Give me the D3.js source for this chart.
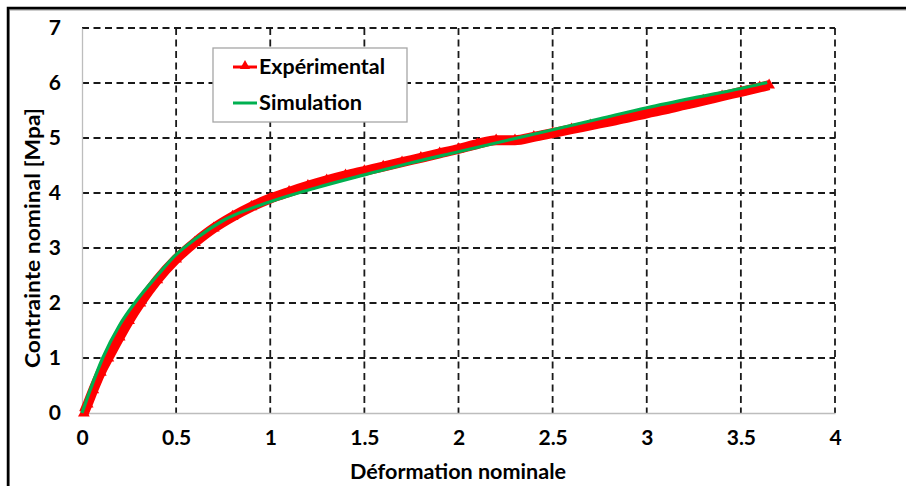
<!DOCTYPE html>
<html><head><meta charset="utf-8">
<script src="https://cdn.jsdelivr.net/npm/d3@7/dist/d3.min.js"></script>
<style>
html,body{margin:0;padding:0;background:#fff;}
text{font-family:Lato,"Open Sans",sans-serif;font-weight:bold;fill:#000;}
</style></head>
<body><svg id="c" width="906" height="486"></svg>
<script>
const xTicks = [0, 0.5, 1, 1.5, 2, 2.5, 3, 3.5, 4];
const xTickLabels = ["0", "0.5", "1", "1.5", "2", "2.5", "3", "3.5", "4"];
const yTicks = [0, 1, 2, 3, 4, 5, 6, 7];
const seriesNames = ["Expérimental", "Simulation"];
const xTitle = "Déformation nominale";
const yTitle = "Contrainte nominal [Mpa]";

const expX = [0.01,0.03,0.06,0.10,0.14,0.20,0.25,0.31,0.40,0.50,0.60,0.70,0.80,0.90,1.00,1.10,1.20,1.30,1.40,1.50,1.60,1.70,1.80,1.90,2.00,2.10,2.20,2.30,2.40,2.50,2.60,2.70,2.80,2.90,3.00,3.10,3.20,3.30,3.40,3.50,3.60,3.65];
const expY = [0,0.16,0.42,0.74,1.0,1.38,1.68,2.0,2.42,2.8,3.1,3.36,3.57,3.75,3.90,4.02,4.13,4.23,4.32,4.40,4.48,4.56,4.64,4.72,4.80,4.89,4.96,4.96,5.02,5.09,5.16,5.23,5.30,5.37,5.45,5.52,5.60,5.68,5.76,5.84,5.92,5.96];

const simX = [0,0.05,0.11,0.20,0.28,0.40,0.50,0.60,0.75,1.00,1.25,1.50,1.75,2.00,2.25,2.50,2.75,3.00,3.25,3.50,3.64];
const simY = [0,0.48,1.0,1.6,2.0,2.5,2.88,3.16,3.5,3.84,4.1,4.33,4.55,4.75,4.95,5.15,5.35,5.55,5.73,5.9,6.01];

const svg = d3.select("#c");
const x = d3.scaleLinear().domain([0,4]).range([82,835]);
const y = d3.scaleLinear().domain([0,7]).range([413,28]);

// outer frame
svg.append("rect").attr("x",9).attr("y",9.5).attr("width",1000).attr("height",1000)
  .attr("fill","none").attr("stroke","#999").attr("stroke-width",2);
svg.append("rect").attr("x",8).attr("y",8).attr("width",1000).attr("height",1000)
  .attr("fill","none").attr("stroke","#000").attr("stroke-width",2.5);

// gridlines
const dash = "7,4.5";
svg.append("g").selectAll("line").data(yTicks.filter(d=>d>0)).join("line")
  .attr("x1",x(0)).attr("x2",x(4)).attr("y1",d=>y(d)).attr("y2",d=>y(d))
  .attr("stroke","#1a1a1a").attr("stroke-width",1.8).attr("stroke-dasharray",dash);
svg.append("g").selectAll("line").data(xTicks.filter(d=>d>0)).join("line")
  .attr("x1",d=>x(d)).attr("x2",d=>x(d)).attr("y1",y(7)).attr("y2",y(0))
  .attr("stroke","#1a1a1a").attr("stroke-width",1.8).attr("stroke-dasharray",dash);

// axes (grey solid)
const xAxis = svg.append("g").attr("transform",`translate(0,${y(0)})`)
  .call(d3.axisBottom(x).tickValues(xTicks).tickFormat((d,i)=>xTickLabels[i]).tickSize(0).tickPadding(17));
const yAxis = svg.append("g").attr("transform",`translate(${x(0)},0)`)
  .call(d3.axisLeft(y).tickValues(yTicks).tickFormat(d3.format("d")).tickSize(0).tickPadding(21));
[xAxis,yAxis].forEach(a=>{
  a.select(".domain").attr("stroke","#bdbdbd").attr("stroke-width",1.3);
  a.selectAll("text").attr("font-size",21).attr("font-family","Lato,sans-serif").attr("font-weight","bold").attr("fill","#000");
});

// experimental series
const lineE = d3.line().x((d,i)=>x(expX[i])).y((d,i)=>y(expY[i])).curve(d3.curveMonotoneX);
svg.append("path").datum(expY).attr("d",lineE).attr("fill","none")
  .attr("stroke","#ff0000").attr("stroke-width",10).attr("stroke-linejoin","round");
const tri = d3.symbol().type(d3.symbolTriangle).size(60);
svg.append("g").selectAll("path").data(expY).join("path")
  .attr("d",tri).attr("fill","#ff0000")
  .attr("transform",(d,i)=>`translate(${x(expX[i])},${y(expY[i])})`);

// simulation series
const lineS = d3.line().x((d,i)=>x(simX[i])).y((d,i)=>y(simY[i])).curve(d3.curveMonotoneX);
svg.append("path").datum(simY).attr("d",lineS).attr("fill","none")
  .attr("stroke","#00b050").attr("stroke-width",3.2).attr("stroke-linejoin","round");

// legend
const lg = svg.append("g");
lg.append("rect").attr("x",213).attr("y",48).attr("width",194).attr("height",74)
  .attr("fill","#fff").attr("stroke","#a6a6a6").attr("stroke-width",1.3);
lg.append("line").attr("x1",233).attr("x2",257).attr("y1",67).attr("y2",67)
  .attr("stroke","#ff0000").attr("stroke-width",3);
lg.append("path").attr("d",d3.symbol().type(d3.symbolTriangle).size(45))
  .attr("transform","translate(245,66)").attr("fill","#ff0000");
lg.append("line").attr("x1",233).attr("x2",257).attr("y1",103).attr("y2",103)
  .attr("stroke","#00b050").attr("stroke-width",3);
lg.append("text").attr("x",259).attr("y",74).attr("font-size",20)
  .attr("textLength",126).attr("lengthAdjust","spacingAndGlyphs").text(seriesNames[0]);
lg.append("text").attr("x",259).attr("y",110).attr("font-size",20)
  .attr("textLength",103).attr("lengthAdjust","spacingAndGlyphs").text(seriesNames[1]);

// axis titles
svg.append("text").attr("x",458).attr("y",479).attr("text-anchor","middle")
  .attr("font-size",20).attr("textLength",216).attr("lengthAdjust","spacingAndGlyphs").text(xTitle);
svg.append("text").attr("transform","translate(40,238) rotate(-90)").attr("text-anchor","middle")
  .attr("font-size",20).attr("textLength",260).attr("lengthAdjust","spacingAndGlyphs").text(yTitle);
</script></body></html>
